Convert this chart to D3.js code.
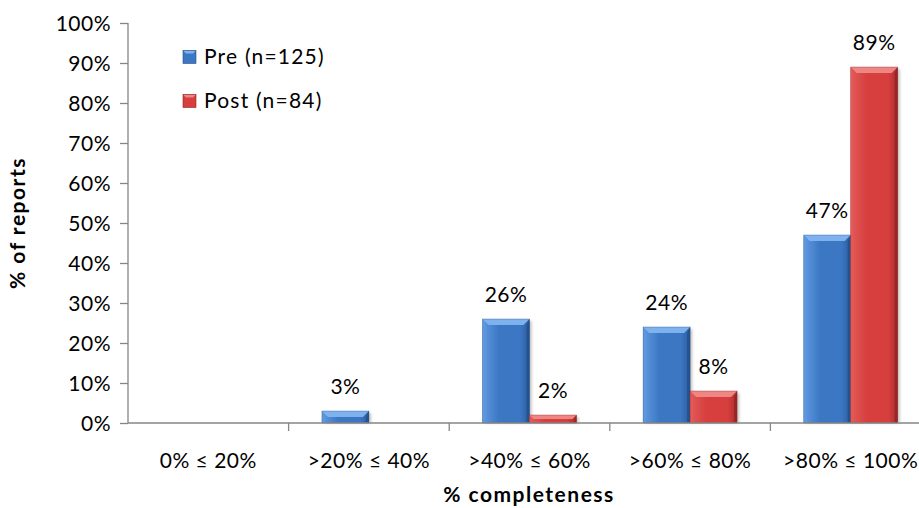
<!DOCTYPE html>
<html>
<head>
<meta charset="utf-8">
<script src="https://cdn.jsdelivr.net/npm/d3@7/dist/d3.min.js"></script>
<style>
  html, body { margin: 0; padding: 0; background: #fff; }
  svg { display: block; font-family: Lato, "Open Sans", "Liberation Sans", sans-serif; }
</style>
</head>
<body>
<svg id="chart" width="919" height="508"></svg>
<script>
// Completeness bands of reports
const categories = ["0% \u2264 20%", ">20% \u2264 40%", ">40% \u2264 60%", ">60% \u2264 80%", ">80% \u2264 100%"];
const seriesNames = ["Pre (n=125)", "Post (n=84)"];
const preValues = [0, 3, 26, 24, 47];
const postValues = [0, 0, 2, 8, 89];
const yTicks = [0, 10, 20, 30, 40, 50, 60, 70, 80, 90, 100];

const svg = d3.select("#chart");
const margin = { left: 128, top: 23, right: -12, bottom: 85 };
const W = 919, H = 508;
const FONT = "Lato, 'Open Sans', sans-serif";

const x = d3.scaleBand()
  .domain(categories)
  .range([margin.left, W - margin.right])
  .paddingInner(0).paddingOuter(0);

const inner = d3.scaleBand()
  .domain([0, 1])
  .range([0, x.bandwidth()])
  .paddingInner(0)
  .paddingOuter(0.71);

const y = d3.scaleLinear().domain([0, 100]).range([H - margin.bottom, margin.top]);

const palettes = [
  { main: "#3c77c4", light: "#5f99e0", top: "#7eb2ee", dark: "#2b5c9e", darker: "#244f88" },
  { main: "#d63f3e", light: "#e25a58", top: "#ee8683", dark: "#ab2c2c", darker: "#922424" }
];

const defs = svg.append("defs");
palettes.forEach((p, i) => {
  const g = defs.append("linearGradient").attr("id", "grad" + i)
    .attr("x1", "0").attr("x2", "1").attr("y1", "0").attr("y2", "0");
  g.append("stop").attr("offset", "0").attr("stop-color", p.light);
  g.append("stop").attr("offset", "0.35").attr("stop-color", p.main);
  g.append("stop").attr("offset", "0.8").attr("stop-color", p.main);
  g.append("stop").attr("offset", "1").attr("stop-color", p.dark);
});
const blur = defs.append("filter").attr("id", "shadow")
  .attr("x", "-20%").attr("y", "-20%").attr("width", "140%").attr("height", "140%");
blur.append("feGaussianBlur").attr("stdDeviation", 1.5);

// Axis lines
const axisColor = "#868686";
svg.append("line")
  .attr("x1", margin.left).attr("x2", margin.left)
  .attr("y1", y(100)).attr("y2", y(0))
  .attr("stroke", axisColor).attr("stroke-width", 1.3);

const yAxis = d3.axisLeft(y).tickValues(yTicks).tickFormat(d => d + "%").tickSize(8).tickPadding(9);
const gy = svg.append("g").attr("transform", `translate(${margin.left},0)`).call(yAxis);
gy.select(".domain").remove();
gy.selectAll(".tick line").attr("stroke", axisColor).attr("stroke-width", 1.3);
gy.selectAll(".tick text").attr("font-size", 21).attr("fill", "#000")
  .attr("letter-spacing", 0.5).attr("dy", "0.34em")
  .attr("font-family", FONT);

// Bars
const data = [preValues, postValues];
categories.forEach((c, ci) => {
  data.forEach((vals, si) => {
    const v = vals[ci];
    if (v <= 0) return;
    const p = palettes[si];
    const bx = x(c) + inner(si);
    const bw = inner.bandwidth();
    const by = y(v);
    const bh = y(0) - by;
    const b = Math.min(6, bh / 2, bw / 2);
    const g = svg.append("g");
    g.append("rect").attr("x", bx + 2).attr("y", by + 2).attr("width", bw).attr("height", bh - 2)
      .attr("fill", "#000").attr("opacity", 0.25).attr("filter", "url(#shadow)");
    g.append("rect").attr("x", bx).attr("y", by).attr("width", bw).attr("height", bh)
      .attr("fill", `url(#grad${si})`);
    // top bevel
    g.append("polygon")
      .attr("points", [[bx, by], [bx + bw, by], [bx + bw - b, by + b], [bx + b, by + b]].map(d => d.join(",")).join(" "))
      .attr("fill", p.top);
    // left bevel
    g.append("polygon")
      .attr("points", [[bx, by], [bx + b * 0.5, by + b], [bx + b * 0.5, by + bh], [bx, by + bh]].map(d => d.join(",")).join(" "))
      .attr("fill", p.light).attr("opacity", 0.7);
    // right bevel
    g.append("polygon")
      .attr("points", [[bx + bw, by], [bx + bw - b * 0.5, by + b], [bx + bw - b * 0.5, by + bh], [bx + bw, by + bh]].map(d => d.join(",")).join(" "))
      .attr("fill", p.darker).attr("opacity", 0.8);
    g.append("rect").attr("x", bx).attr("y", by).attr("width", bw).attr("height", bh)
      .attr("fill", "none").attr("stroke", p.darker).attr("stroke-width", 0.6).attr("opacity", 0.6);
    // value label
    svg.append("text")
      .attr("x", bx + bw / 2).attr("y", by - 17)
      .attr("text-anchor", "middle").attr("font-size", 21).attr("letter-spacing", 0.5)
      .attr("fill", "#000")
      .text(v + "%");
  });
});

// X axis
svg.append("line")
  .attr("x1", margin.left).attr("x2", W)
  .attr("y1", y(0)).attr("y2", y(0))
  .attr("stroke", axisColor).attr("stroke-width", 1.3);
categories.forEach((c, i) => {
  if (i > 0) {
    svg.append("line")
      .attr("x1", x(c)).attr("x2", x(c))
      .attr("y1", y(0)).attr("y2", y(0) + 8)
      .attr("stroke", axisColor).attr("stroke-width", 1.3);
  }
  svg.append("text")
    .attr("x", x(c) + x.bandwidth() / 2).attr("y", y(0) + 45)
    .attr("text-anchor", "middle").attr("font-size", 21).attr("letter-spacing", 0.5)
    .attr("fill", "#000")
    .text(c);
});

// Axis titles
svg.append("text")
  .attr("x", 529).attr("y", 502)
  .attr("text-anchor", "middle").attr("font-size", 21).attr("font-weight", "bold")
  .attr("letter-spacing", 1.5)
  .text("% completeness");
svg.append("text")
  .attr("transform", `translate(25,${(y(0) + y(100)) / 2}) rotate(-90)`)
  .attr("text-anchor", "middle").attr("font-size", 21).attr("font-weight", "bold")
  .attr("letter-spacing", 1.5)
  .text("% of reports");

// Legend
seriesNames.forEach((name, i) => {
  const ly = 57 + i * 44;
  const p = palettes[i];
  const s = 13, lx = 183;
  svg.append("rect").attr("x", lx).attr("y", ly - s / 2).attr("width", s).attr("height", s)
    .attr("fill", p.main);
  svg.append("polygon")
    .attr("points", [[lx, ly - s / 2], [lx + s, ly - s / 2], [lx + s - 3, ly - s / 2 + 3], [lx + 3, ly - s / 2 + 3]].map(d => d.join(",")).join(" "))
    .attr("fill", p.top);
  svg.append("rect").attr("x", lx).attr("y", ly - s / 2).attr("width", s).attr("height", s)
    .attr("fill", "none").attr("stroke", p.darker).attr("stroke-width", 0.6);
  svg.append("text").attr("x", lx + s + 8).attr("y", ly + 7)
    .attr("font-size", 21).attr("letter-spacing", 1.2).attr("fill", "#000").text(name);
});
</script>
</body>
</html>
